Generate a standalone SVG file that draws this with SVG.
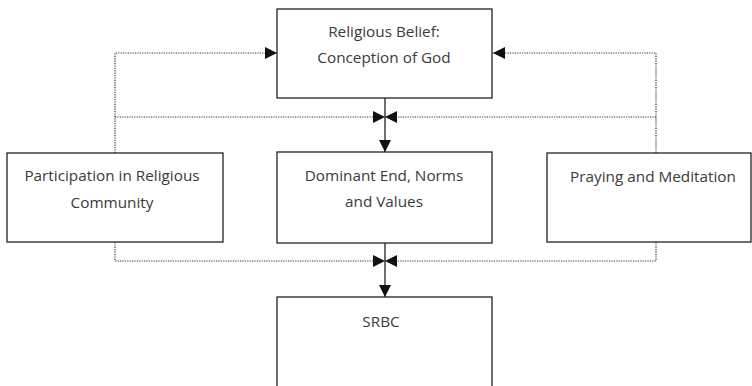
<svg xmlns="http://www.w3.org/2000/svg" width="752" height="386" viewBox="0 0 752 386">
<style>
.box{fill:#fff;stroke:#222;stroke-width:1.3}
.lbl{font-family:"Open Sans","Noto Sans",sans-serif;font-size:15.3px;fill:#3a3a3a;text-anchor:middle}
.dot{fill:none;stroke:#333;stroke-width:1.2;stroke-dasharray:1.2 1.2}
.solid{fill:none;stroke:#222;stroke-width:1.3}
</style>
<defs>
<marker id="ah" markerUnits="userSpaceOnUse" markerWidth="12" markerHeight="12" refX="12" refY="6" orient="auto" viewBox="0 0 12 12">
<path d="M0,0 L12,6 L0,12 z" fill="#111"/>
</marker>
</defs>
<g id="connectors">
<polyline class="dot" points="115,153 115,53 277,53" marker-end="url(#ah)"/>
<polyline class="dot" points="656,153 656,53 493,53" marker-end="url(#ah)"/>
<line class="dot" x1="115" y1="117" x2="385" y2="117" marker-end="url(#ah)"/>
<line class="dot" x1="656" y1="117" x2="385" y2="117" marker-end="url(#ah)"/>
<line class="solid" x1="385" y1="98" x2="385" y2="152" marker-end="url(#ah)"/>
<polyline class="dot" points="115,242 115,261 385,261" marker-end="url(#ah)"/>
<polyline class="dot" points="656,242 656,261 385,261" marker-end="url(#ah)"/>
<line class="solid" x1="385" y1="243" x2="385" y2="297" marker-end="url(#ah)"/>
</g>
<g id="belief">
<rect class="box" x="277" y="9" width="215" height="89"/>
<text class="lbl" x="384" y="37">Religious Belief:</text>
<text class="lbl" x="384" y="63">Conception of God</text>
</g>
<g id="participation">
<rect class="box" x="7" y="153" width="216" height="89"/>
<text class="lbl" x="112" y="181">Participation in Religious</text>
<text class="lbl" x="112" y="208">Community</text>
</g>
<g id="dominant">
<rect class="box" x="277" y="152" width="215" height="91"/>
<text class="lbl" x="384" y="181">Dominant End, Norms</text>
<text class="lbl" x="384" y="207">and Values</text>
</g>
<g id="praying">
<rect class="box" x="547" y="153" width="204" height="89"/>
<text class="lbl" x="653" y="182">Praying and Meditation</text>
</g>
<g id="srbc">
<rect class="box" x="277" y="297" width="215" height="95"/>
<text class="lbl" x="381" y="327">SRBC</text>
</g>
</svg>
